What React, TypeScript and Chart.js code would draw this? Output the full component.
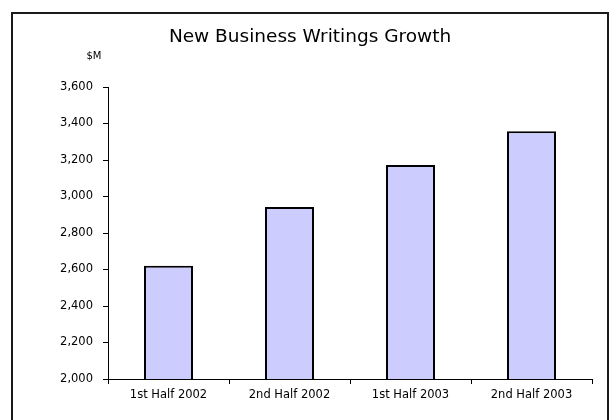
import React, { useEffect, useRef } from "react";
import { Chart, registerables } from "chart.js";

Chart.register(...registerables);

const categories = ["1st Half 2002", "2nd Half 2002", "1st Half 2003", "2nd Half 2003"];
const writings = [2620, 2942, 3172, 3358];
const yTicks = { min: 2000, max: 3600, step: 200 };
const titleText = "New Business Writings Growth";
const unitLabel = "$M";

const FONT = "'DejaVu Sans', Verdana, sans-serif";

const framePlugin = {
  id: "frame",
  beforeDraw(chart: any) {
    const { ctx } = chart;
    ctx.save();
    ctx.fillStyle = "#ffffff";
    ctx.fillRect(0, 0, chart.width, chart.height);
    ctx.strokeStyle = "#1a1a1a";
    ctx.lineWidth = 2;
    ctx.strokeRect(12, 13, 596, 500);
    ctx.restore();
  },
  afterDraw(chart: any) {
    const { ctx, chartArea } = chart;
    ctx.save();
    ctx.fillStyle = "#000";
    ctx.textAlign = "center";
    ctx.textBaseline = "alphabetic";
    ctx.font = `18.5px ${FONT}`;
    ctx.fillText(titleText, 310, 42);
    ctx.font = `10px ${FONT}`;
    ctx.textBaseline = "middle";
    ctx.fillText(unitLabel, chartArea.left - 14, chartArea.top - 31);
    ctx.restore();
  },
};

export default function App() {
  const ref = useRef<HTMLCanvasElement | null>(null);
  useEffect(() => {
    if (!ref.current) return;
    const chart = new Chart(ref.current, {
      type: "bar",
      data: {
        labels: categories,
        datasets: [
          {
            data: writings,
            backgroundColor: "#CCCCFF",
            borderColor: "#000000",
            borderWidth: 2,
            borderSkipped: false,
            categoryPercentage: 1,
            barPercentage: 0.405,
          },
        ],
      },
      options: {
        animation: false,
        responsive: false,
        maintainAspectRatio: false,
        layout: { padding: { left: 0, right: 19, top: 87, bottom: 0 } },
        plugins: {
          legend: { display: false },
          tooltip: { enabled: false },
          title: { display: false },
        },
        scales: {
          x: {
            offset: true,
            border: { display: true, color: "#000", width: 1 },
            grid: {
              offset: true,
              drawOnChartArea: false,
              drawTicks: true,
              tickLength: 5,
              tickColor: "#000",
            },
            ticks: {
              color: "#000",
              padding: 4,
              maxRotation: 0,
              font: { family: FONT, size: 11.5 },
            },
            afterFit(scale: any) {
              scale.height = 41;
            },
          },
          y: {
            min: yTicks.min,
            max: yTicks.max,
            border: { display: true, color: "#000", width: 1 },
            grid: {
              drawOnChartArea: false,
              drawTicks: true,
              tickLength: 5,
              tickColor: "#000",
            },
            ticks: {
              stepSize: yTicks.step,
              color: "#000",
              padding: 10,
              font: { family: FONT, size: 11.5 },
              callback: (v: any) => Number(v).toLocaleString("en-US"),
            },
            afterFit(scale: any) {
              scale.width = 108;
            },
          },
        },
      },
      plugins: [framePlugin],
    });
    return () => chart.destroy();
  }, []);
  return (
    <div style={{ position: "fixed", left: 0, top: 0, width: 611, height: 420 }}>
      <canvas ref={ref} width={611} height={420} style={{ width: 611, height: 420, display: "block" }} />
    </div>
  );
}
